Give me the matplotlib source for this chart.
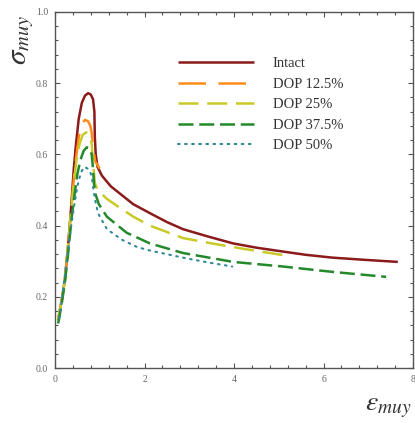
import matplotlib
matplotlib.use("Agg")
import matplotlib.pyplot as plt
from matplotlib.ticker import MultipleLocator, FormatStrFormatter

plt.rcParams['mathtext.fontset'] = 'stix'
plt.rcParams['font.family'] = ['Liberation Serif', 'DejaVu Serif']

# Data
intact_x = [0.07, 0.15, 0.22, 0.29, 0.36, 0.42, 0.47, 0.53, 0.60, 0.67, 0.74, 0.80, 0.85, 0.88, 0.89, 0.91, 0.95, 1.05, 1.25, 1.45, 1.75, 2.12, 2.5, 2.86, 3.4, 3.98, 4.5, 5.1, 5.6, 6.2, 6.9, 7.66]
intact_y = [0.135, 0.19, 0.247, 0.34, 0.45, 0.56, 0.63, 0.70, 0.745, 0.765, 0.772, 0.768, 0.755, 0.72, 0.65, 0.60, 0.565, 0.54, 0.51, 0.49, 0.46, 0.435, 0.41, 0.39, 0.37, 0.35, 0.338, 0.327, 0.318, 0.31, 0.304, 0.298]

dop125_x = [0.07, 0.15, 0.22, 0.29, 0.36, 0.42, 0.48, 0.54, 0.60, 0.67, 0.74, 0.79, 0.82, 0.85, 0.90, 1.00]
dop125_y = [0.135, 0.19, 0.247, 0.34, 0.44, 0.53, 0.60, 0.655, 0.685, 0.697, 0.693, 0.68, 0.66, 0.62, 0.58, 0.56]

dop25_x = [0.07, 0.15, 0.22, 0.29, 0.36, 0.42, 0.48, 0.55, 0.62, 0.70, 0.77, 0.82, 0.85, 0.89, 0.95, 1.16, 1.45, 1.75, 2.12, 2.86, 3.5, 4.2, 5.1]
dop25_y = [0.135, 0.19, 0.247, 0.34, 0.44, 0.52, 0.585, 0.63, 0.655, 0.662, 0.655, 0.63, 0.58, 0.52, 0.50, 0.475, 0.45, 0.425, 0.40, 0.365, 0.35, 0.335, 0.317]

dop375_x = [0.07, 0.15, 0.22, 0.30, 0.37, 0.44, 0.50, 0.57, 0.64, 0.71, 0.77, 0.82, 0.85, 0.87, 0.90, 0.98, 1.16, 1.6, 2.12, 2.86, 3.98, 5.1, 6.2, 7.4]
dop375_y = [0.125, 0.18, 0.24, 0.33, 0.42, 0.49, 0.545, 0.585, 0.61, 0.62, 0.617, 0.60, 0.56, 0.52, 0.49, 0.46, 0.425, 0.38, 0.35, 0.323, 0.298, 0.285, 0.27, 0.256]

dop50_x = [0.10, 0.18, 0.26, 0.34, 0.42, 0.50, 0.58, 0.66, 0.73, 0.79, 0.83, 0.86, 0.90, 0.96, 1.16, 1.5, 1.83, 2.12, 2.86, 3.4, 3.96]
dop50_y = [0.14, 0.22, 0.30, 0.38, 0.45, 0.51, 0.55, 0.565, 0.56, 0.55, 0.53, 0.50, 0.47, 0.435, 0.39, 0.36, 0.34, 0.33, 0.31, 0.297, 0.285]

labels = ['Intact', 'DOP 12.5%', 'DOP 25%', 'DOP 37.5%', 'DOP 50%']

fig = plt.figure(figsize=(4.15, 4.23), dpi=100)
ax = fig.add_axes([55/415, 1 - 368/423, (413 - 55)/415, (368 - 12)/423])

lw = 1.8
ax.plot(intact_x, intact_y, color='#8b1a1a', lw=lw, label=labels[0], solid_capstyle='butt')
ax.plot(dop125_x, dop125_y, color='#ff8c1a', lw=lw, linestyle=(0, (11, 5)), label=labels[1])
ax.plot(dop25_x, dop25_y, color='#c9c928', lw=lw, linestyle=(0, (8, 3.5)), label=labels[2])
ax.plot(dop375_x, dop375_y, color='#23892a', lw=lw, linestyle=(0, (6, 2.3)), label=labels[3])
ax.plot(dop50_x, dop50_y, color='#2f8a96', lw=1.5, linestyle=(0, (0.8, 2.6)), dash_capstyle='round', label=labels[4])

ax.set_xlim(0, 8)
ax.set_ylim(0, 1.0)
ax.xaxis.set_major_locator(MultipleLocator(2))
ax.xaxis.set_minor_locator(MultipleLocator(0.4))
ax.yaxis.set_major_locator(MultipleLocator(0.2))
ax.yaxis.set_minor_locator(MultipleLocator(0.04))
ax.yaxis.set_major_formatter(FormatStrFormatter('%.1f'))
ax.xaxis.set_major_formatter(FormatStrFormatter('%d'))
ax.tick_params(which='both', direction='in', top=True, right=True, colors='#555555', labelcolor='#666666', labelsize=7)
ax.tick_params(which='major', length=3.5, width=0.8, pad=5)
ax.tick_params(which='minor', length=2.5, width=0.8)
for s in ax.spines.values():
    s.set_color('#555555')
    s.set_linewidth(1.0)

fig.text(23/415, 1 - 40/423, r'$\sigma_{muy}$', rotation=90, fontsize=21, ha='center', va='center', color='#333333')
fig.text(388/415, 1 - 407/423, r'$\varepsilon_{muy}$', fontsize=20, ha='center', va='center', color='#333333')

leg = ax.legend(loc='upper left', bbox_to_anchor=(178/415, 1 - 57/423), bbox_transform=fig.transFigure,
                frameon=False, fontsize=10.5, handlelength=5.2, handletextpad=1.3, labelspacing=0.5,
                borderpad=0, borderaxespad=0)
for t in leg.get_texts():
    t.set_color('#333333')

fig.savefig('out.png', dpi=100)
